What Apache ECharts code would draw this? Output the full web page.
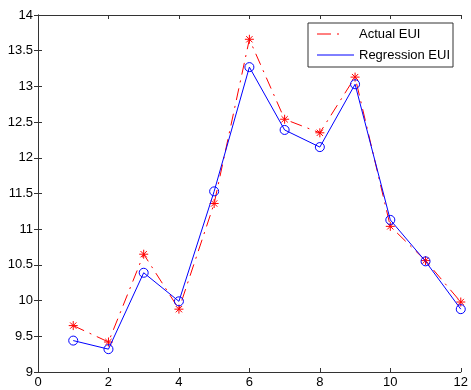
<!DOCTYPE html>
<html><head><meta charset="utf-8">
<script src="https://cdn.jsdelivr.net/npm/echarts@6/dist/echarts.min.js"></script>
<style>html,body{margin:0;padding:0;background:#fff}#c{width:471px;height:390px}</style>
</head><body><div id="c"></div>
<script>
var months = [1,2,3,4,5,6,7,8,9,10,11,12];
var actualEUI = [9.65,9.42,10.65,9.88,11.36,13.66,12.54,12.35,13.13,11.04,10.56,9.98];
var regressionEUI = [9.44,9.32,10.39,9.99,11.53,13.27,12.39,12.15,13.03,11.13,10.55,9.88];
var xTicks = {min:0,max:12,interval:2};
var yTicks = {min:9,max:14,interval:0.5};

var starPath = 'path://M0,-10L0,10M-10,0L10,0M-7,-7L7,7M-7,7L7,-7';
var font = 'Liberation Sans, Arial, sans-serif';
var axisLine = {show:true,lineStyle:{color:'#333',width:1}};
var chart = echarts.init(document.getElementById('c'));
chart.setOption({
  animation:false,
  backgroundColor:'#fff',
  grid:{left:38,right:8,top:15,bottom:18},
  xAxis:[
    {type:'value',min:xTicks.min,max:xTicks.max,interval:xTicks.interval,axisLine:axisLine,
     axisTick:{show:true,inside:true,length:4,lineStyle:{color:'#333'}},
     axisLabel:{color:'#000',fontFamily:font,fontSize:13,margin:4},splitLine:{show:false}},
    {type:'value',position:'top',min:xTicks.min,max:xTicks.max,interval:xTicks.interval,axisLine:axisLine,
     axisTick:{show:true,inside:true,length:4,lineStyle:{color:'#333'}},axisLabel:{show:false},splitLine:{show:false}}
  ],
  yAxis:[
    {type:'value',min:yTicks.min,max:yTicks.max,interval:yTicks.interval,axisLine:axisLine,
     axisTick:{show:true,inside:true,length:4,lineStyle:{color:'#333'}},
     axisLabel:{color:'#000',fontFamily:font,fontSize:13,margin:5},splitLine:{show:false}},
    {type:'value',position:'right',min:yTicks.min,max:yTicks.max,interval:yTicks.interval,axisLine:axisLine,
     axisTick:{show:true,inside:true,length:4,lineStyle:{color:'#333'}},axisLabel:{show:false},splitLine:{show:false}}
  ],
  series:[
    {name:'Actual EUI',type:'line',data:months.map(function(m,i){return [m,actualEUI[i]];}),
     lineStyle:{color:'#f00',width:1,type:[12,6,2,6]},symbol:starPath,symbolSize:9,
     itemStyle:{color:'rgba(0,0,0,0)',borderColor:'#f00',borderWidth:1},z:2},
    {name:'Regression EUI',type:'line',data:months.map(function(m,i){return [m,regressionEUI[i]];}),
     lineStyle:{color:'#00f',width:1},symbol:'circle',symbolSize:9,showSymbol:true,
     itemStyle:{color:'rgba(0,0,0,0)',borderColor:'#00f',borderWidth:1},z:3}
  ],
  graphic:[
    {type:'rect',shape:{x:308,y:23,width:145,height:44},style:{fill:'#fff',stroke:'#333',lineWidth:1},z:10},
    {type:'line',shape:{x1:317,y1:34,x2:354,y2:34},style:{stroke:'#f00',lineWidth:1,lineDash:[14,6,2,20]},z:11},
    {type:'text',style:{x:359,y:34,text:'Actual EUI',fill:'#000',font:'13px '+font,textVerticalAlign:'middle'},z:11},
    {type:'line',shape:{x1:317,y1:55,x2:354,y2:55},style:{stroke:'#00f',lineWidth:1},z:11},
    {type:'text',style:{x:359,y:55,text:'Regression EUI',fill:'#000',font:'13px '+font,textVerticalAlign:'middle'},z:11}
  ]
});
</script></body></html>
